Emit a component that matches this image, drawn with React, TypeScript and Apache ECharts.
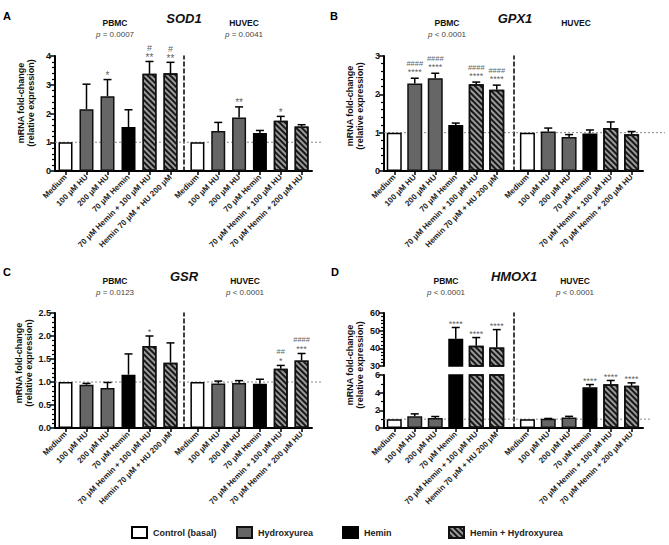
import React, { useEffect, useRef } from 'react';
import * as echarts from 'echarts';

const FONT = "'Liberation Sans', Arial, Helvetica, sans-serif";

const pbmcLabels = ['Medium', '100 μM HU', '200 μM HU', '70 μM Hemin', '70 μM Hemin + 100 μM HU', 'Hemin 70 μM + HU 200 μM'];
const huvecLabels = ['Medium', '100 μM HU', '200 μM HU', '70 μM Hemin', '70 μM Hemin + 100 μM HU', '70 μM Hemin + 200 μM HU'];
const treatments = ['control', 'hu', 'hu', 'hemin', 'combo', 'combo'];
const legendNames = ['Control (basal)', 'Hydroxyurea', 'Hemin', 'Hemin + Hydroxyurea'];
const legendTreatments = ['control', 'hu', 'hemin', 'combo'];

// SOD1
const sod1PbmcMean = [1, 2.15, 2.6, 1.53, 3.38, 3.4];
const sod1PbmcSem = [0, 0.87, 0.58, 0.6, 0.43, 0.38];
const sod1PbmcStars = ['', '', '*', '', '**', '**'];
const sod1PbmcHash = ['', '', '', '', '#', '#'];
const sod1HuvecMean = [1, 1.39, 1.86, 1.32, 1.75, 1.55];
const sod1HuvecSem = [0, 0.3, 0.37, 0.09, 0.15, 0.06];
const sod1HuvecStars = ['', '', '**', '', '*', ''];
const sod1HuvecHash = ['', '', '', '', '', ''];
const sod1P = ['= 0.0007', '= 0.0041'];

// GPX1
const gpx1PbmcMean = [1, 2.28, 2.42, 1.2, 2.26, 2.12];
const gpx1PbmcSem = [0, 0.14, 0.13, 0.05, 0.06, 0.12];
const gpx1PbmcStars = ['', '****', '****', '', '****', '****'];
const gpx1PbmcHash = ['', '####', '####', '', '####', '####'];
const gpx1HuvecMean = [1, 1.03, 0.89, 0.98, 1.12, 0.96];
const gpx1HuvecSem = [0, 0.09, 0.06, 0.09, 0.16, 0.07];
const gpx1HuvecStars = ['', '', '', '', '', ''];
const gpx1HuvecHash = ['', '', '', '', '', ''];
const gpx1P = ['< 0.0001', ''];

// GSR
const gsrPbmcMean = [1, 0.94, 0.87, 1.16, 1.78, 1.42];
const gsrPbmcSem = [0, 0.03, 0.12, 0.45, 0.22, 0.43];
const gsrPbmcStars = ['', '', '', '', '*', ''];
const gsrPbmcHash = ['', '', '', '', '', ''];
const gsrHuvecMean = [1, 0.97, 0.98, 0.96, 1.29, 1.47];
const gsrHuvecSem = [0, 0.05, 0.05, 0.1, 0.07, 0.15];
const gsrHuvecStars = ['', '', '', '', '*', '***'];
const gsrHuvecHash = ['', '', '', '', '##', '####'];
const gsrP = ['= 0.0123', '< 0.0001'];

// HMOX1
const hmoxPbmcMean = [1, 1.32, 1.12, 45.4, 41.4, 40.5];
const hmoxPbmcSem = [0, 0.28, 0.18, 6.4, 4.7, 10.1];
const hmoxPbmcStars = ['', '', '', '****', '****', '****'];
const hmoxPbmcHash = ['', '', '', '', '', ''];
const hmoxHuvecMean = [1, 1.05, 1.2, 4.6, 4.95, 4.78];
const hmoxHuvecSem = [0, 0.03, 0.12, 0.32, 0.43, 0.33];
const hmoxHuvecStars = ['', '', '', '****', '****', '****'];
const hmoxHuvecHash = ['', '', '', '', '', ''];
const hmoxP = ['< 0.0001', '< 0.0001'];

const HATCH = {
  symbol: 'rect',
  symbolSize: 1,
  rotation: Math.PI / 4,
  color: 'rgba(0,0,0,0.85)',
  dashArrayX: [1, 0],
  dashArrayY: [1.6, 1.8],
};

const BAR_STYLE: Record<string, any> = {
  control: { color: '#ffffff', borderColor: '#000', borderWidth: 1.5 },
  hu: { color: '#666666', borderColor: '#111', borderWidth: 1.5 },
  hemin: { color: '#000000', borderColor: '#000', borderWidth: 1.5 },
  combo: { color: '#9a9a9a', borderColor: '#111', borderWidth: 1.5, decal: HATCH },
};

type Seg = { top: number; height: number; min: number; max: number; interval: number; minor: number; bottom: boolean; ref: boolean; fmt?: (v: number) => string };

type Panel = {
  letter: string; gene: string; p: string[];
  yx: number; pw: number; hx: number; hw: number; div: number; xEnd: number; dashEnd: number; barW: number;
  segs: Seg[];
  pMean: number[]; pSem: number[]; pStars: string[]; pHash: string[];
  hMean: number[]; hSem: number[]; hStars: string[]; hHash: string[];
  letterPos: number[]; genePos: number[]; pbmcPos: number[]; huvecPos: number[]; pY: number; namePos: number[];
  starSize: number; hashSize: number; starDy: number; hashDy: number;
};

const panels: Panel[] = [
  {
    letter: 'A', gene: 'SOD1', p: sod1P, yx: 55, pw: 126, hx: 187, hw: 125, div: 184, xEnd: 312, dashEnd: 322, barW: 14,
    segs: [{ top: 56, height: 115, min: 0, max: 4, interval: 1, minor: 5, bottom: true, ref: true }],
    pMean: sod1PbmcMean, pSem: sod1PbmcSem, pStars: sod1PbmcStars, pHash: sod1PbmcHash,
    hMean: sod1HuvecMean, hSem: sod1HuvecSem, hStars: sod1HuvecStars, hHash: sod1HuvecHash,
    letterPos: [3, 16], genePos: [184, 18.5], pbmcPos: [115, 22.5], huvecPos: [244, 22.5], pY: 34, namePos: [26, 103],
    starSize: 10, hashSize: 9, starDy: 1, hashDy: -9,
  },
  {
    letter: 'B', gene: 'GPX1', p: gpx1P, yx: 384, pw: 123, hx: 517, hw: 125, div: 514, xEnd: 643, dashEnd: 665, barW: 15,
    segs: [{ top: 56, height: 115, min: 0, max: 3, interval: 1, minor: 5, bottom: true, ref: true }],
    pMean: gpx1PbmcMean, pSem: gpx1PbmcSem, pStars: gpx1PbmcStars, pHash: gpx1PbmcHash,
    hMean: gpx1HuvecMean, hSem: gpx1HuvecSem, hStars: gpx1HuvecStars, hHash: gpx1HuvecHash,
    letterPos: [330, 16], genePos: [515, 18.5], pbmcPos: [447, 22.5], huvecPos: [576, 22.5], pY: 34, namePos: [355, 106],
    starSize: 9, hashSize: 7.5, starDy: -2, hashDy: -11,
  },
  {
    letter: 'C', gene: 'GSR', p: gsrP, yx: 55, pw: 126, hx: 187, hw: 125, div: 184, xEnd: 312, dashEnd: 322, barW: 14,
    segs: [{ top: 313, height: 115, min: 0, max: 2.5, interval: 0.5, minor: 5, bottom: true, ref: true, fmt: (v: number) => v.toFixed(1) }],
    pMean: gsrPbmcMean, pSem: gsrPbmcSem, pStars: gsrPbmcStars, pHash: gsrPbmcHash,
    hMean: gsrHuvecMean, hSem: gsrHuvecSem, hStars: gsrHuvecStars, hHash: gsrHuvecHash,
    letterPos: [3, 272], genePos: [184, 276], pbmcPos: [115, 280.5], huvecPos: [245, 280.5], pY: 292, namePos: [24, 363],
    starSize: 9, hashSize: 7.5, starDy: 0, hashDy: -10,
  },
  {
    letter: 'D', gene: 'HMOX1', p: hmoxP, yx: 384, pw: 123, hx: 517, hw: 125, div: 514, xEnd: 643, dashEnd: 650, barW: 15,
    segs: [
      { top: 313, height: 53, min: 30, max: 60, interval: 10, minor: 5, bottom: false, ref: false },
      { top: 375, height: 53, min: 0, max: 6, interval: 2, minor: 2, bottom: true, ref: true },
    ],
    pMean: hmoxPbmcMean, pSem: hmoxPbmcSem, pStars: hmoxPbmcStars, pHash: hmoxPbmcHash,
    hMean: hmoxHuvecMean, hSem: hmoxHuvecSem, hStars: hmoxHuvecStars, hHash: hmoxHuvecHash,
    letterPos: [331, 272], genePos: [514, 276], pbmcPos: [446, 280.5], huvecPos: [575, 280.5], pY: 292, namePos: [355, 365],
    starSize: 9, hashSize: 7.5, starDy: 1, hashDy: -9,
  },
];

function buildOption() {
  const grid: any[] = [];
  const xAxis: any[] = [];
  const yAxis: any[] = [];
  const series: any[] = [];
  const graphic: any[] = [];

  const addGrid = (left: number, width: number, top: number, height: number) => {
    grid.push({ left, width, top, height, containLabel: false, show: false });
    return grid.length - 1;
  };

  const blackLine = { color: '#000', width: 1.5 };

  const errSeries = (xi: number, yi: number, means: number[], sems: number[], lo: number, hi: number) => ({
    type: 'custom',
    xAxisIndex: xi,
    yAxisIndex: yi,
    z: 6,
    silent: true,
    clip: false,
    data: means.map((m, i) => [i, m, sems[i]]),
    encode: { x: 0, y: 1 },
    renderItem: (params: any, api: any) => {
      const i = params.dataIndex;
      const m = api.value(1);
      const e = api.value(2);
      if (m < lo || m > hi || !(e > 0)) return { type: 'group', children: [] };
      const p0 = api.coord([i, m]);
      const p1 = api.coord([i, m + e]);
      const ls = { stroke: '#000', lineWidth: 1.5, fill: null };
      return {
        type: 'group',
        children: [
          { type: 'line', shape: { x1: p0[0], y1: p0[1], x2: p1[0], y2: p1[1] }, style: ls },
          { type: 'line', shape: { x1: p1[0] - 4, y1: p1[1], x2: p1[0] + 4, y2: p1[1] }, style: ls },
        ],
      };
    },
  });

  const annotSeries = (xi: number, yi: number, means: number[], sems: number[], marks: string[], lo: number, hi: number, size: number, dy: number) => {
    const data: any[] = [];
    means.forEach((m, i) => {
      if (marks[i] && m >= lo && m <= hi) data.push([i, m + sems[i], i]);
    });
    return {
      type: 'scatter',
      xAxisIndex: xi,
      yAxisIndex: yi,
      z: 7,
      silent: true,
      clip: false,
      symbol: 'circle',
      symbolSize: 0,
      itemStyle: { color: 'rgba(0,0,0,0)' },
      data,
      label: {
        show: true,
        position: 'top',
        distance: -dy,
        formatter: (p: any) => marks[p.data[2]],
        fontSize: size,
        fontFamily: FONT,
        color: '#333',
        lineHeight: size,
      },
    };
  };

  const barSeries = (xi: number, yi: number, means: number[], barW: number) => ({
    type: 'bar',
    xAxisIndex: xi,
    yAxisIndex: yi,
    barWidth: barW,
    clip: true,
    z: 3,
    silent: true,
    data: means.map((v, i) => ({ value: v, itemStyle: BAR_STYLE[treatments[i]] })),
  });

  panels.forEach((P) => {
    P.segs.forEach((S) => {
      const lo = S.min === 0 ? -Infinity : S.min;
      const hi = S.max;
      [0, 1].forEach((side) => {
        const isP = side === 0;
        const gi = isP ? addGrid(P.yx, P.pw, S.top, S.height) : addGrid(P.hx, P.hw, S.top, S.height);
        xAxis.push({
          gridIndex: gi,
          type: 'category',
          data: isP ? pbmcLabels : huvecLabels,
          axisLine: { show: false },
          axisTick: { show: S.bottom, alignWithLabel: true, length: 4, lineStyle: blackLine },
          axisLabel: {
            show: S.bottom, interval: 0, rotate: 45, margin: 5,
            fontSize: 8, fontWeight: 'bold', fontFamily: FONT, color: '#222',
          },
          splitLine: { show: false },
        });
        yAxis.push({
          gridIndex: gi,
          type: 'value',
          min: S.min,
          max: S.max,
          interval: S.interval,
          show: isP,
          axisLine: { show: true, onZero: false, lineStyle: { color: '#000', width: 2 } },
          axisTick: { show: true, length: 5, lineStyle: blackLine },
          minorTick: { show: true, splitNumber: S.minor, length: 3, lineStyle: { color: '#000', width: 1.2 } },
          axisLabel: { fontSize: 9, fontWeight: 'bold', fontFamily: FONT, color: '#111', margin: 4, formatter: S.fmt ? S.fmt : (v: number) => String(v) },
          splitLine: { show: false },
        });
        const xi = xAxis.length - 1;
        const yi = yAxis.length - 1;
        const means = isP ? P.pMean : P.hMean;
        const sems = isP ? P.pSem : P.hSem;
        series.push(barSeries(xi, yi, means, P.barW));
        series.push(errSeries(xi, yi, means, sems, lo, hi));
        series.push(annotSeries(xi, yi, means, sems, isP ? P.pStars : P.hStars, lo, hi, P.starSize, P.starDy));
        series.push(annotSeries(xi, yi, means, sems, isP ? P.pHash : P.hHash, lo, hi, P.hashSize, P.hashDy));
      });

      if (S.bottom) {
        const gi = addGrid(P.yx, P.xEnd - P.yx, S.top, S.height);
        xAxis.push({ gridIndex: gi, type: 'value', min: 0, max: 1, axisLine: { show: true, onZero: false, lineStyle: { color: '#000', width: 2 } }, axisTick: { show: false }, axisLabel: { show: false }, splitLine: { show: false } });
        yAxis.push({ gridIndex: gi, type: 'value', min: 0, max: 1, show: false });
      }
      if (S.ref) {
        const gi = addGrid(P.yx, P.dashEnd - P.yx, S.top, S.height);
        xAxis.push({ gridIndex: gi, type: 'value', min: 0, max: 1, show: false });
        yAxis.push({ gridIndex: gi, type: 'value', min: S.min, max: S.max, show: false });
        series.push({
          type: 'line', xAxisIndex: xAxis.length - 1, yAxisIndex: yAxis.length - 1, z: 1, silent: true,
          symbol: 'none', lineStyle: { color: '#8a8a8a', width: 1, type: [2, 2] },
          data: [[0, 1], [1, 1]],
        });
      }
    });

    const top = P.segs[0].top;
    const last = P.segs[P.segs.length - 1];
    const bottom = last.top + last.height;
    const gi = addGrid(P.div, 10, top, bottom - top);
    xAxis.push({ gridIndex: gi, type: 'value', min: 0, max: 1, show: false });
    yAxis.push({
      gridIndex: gi, type: 'value', min: 0, max: 1,
      axisLine: { show: true, onZero: false, lineStyle: { color: '#000', width: 1.5, type: [4, 3] } },
      axisTick: { show: false }, axisLabel: { show: false }, splitLine: { show: false },
    });

    graphic.push({ type: 'text', x: P.letterPos[0], y: P.letterPos[1], style: { text: P.letter, font: `bold 11px ${FONT}`, fill: '#000', verticalAlign: 'middle' } });
    graphic.push({ type: 'text', x: P.genePos[0], y: P.genePos[1], style: { text: P.gene, font: `italic bold 13px ${FONT}`, fill: '#111', align: 'center', verticalAlign: 'middle' } });
    graphic.push({ type: 'text', x: P.pbmcPos[0], y: P.pbmcPos[1], style: { text: 'PBMC', font: `bold 8.5px ${FONT}`, fill: '#111', align: 'center', verticalAlign: 'middle' } });
    graphic.push({ type: 'text', x: P.huvecPos[0], y: P.huvecPos[1], style: { text: 'HUVEC', font: `bold 8.5px ${FONT}`, fill: '#111', align: 'center', verticalAlign: 'middle' } });
    const pTexts = [[P.pbmcPos[0], P.p[0]], [P.huvecPos[0], P.p[1]]];
    pTexts.forEach(([x, t]) => {
      if (!t) return;
      graphic.push({
        type: 'text', x: x as number, y: P.pY,
        style: {
          text: `{i|p} ${t}`, font: `8px ${FONT}`, fill: '#444', align: 'center', verticalAlign: 'middle',
          rich: { i: { fontStyle: 'italic', fontSize: 8, fontFamily: FONT, fill: '#444' } },
        },
      });
    });
    graphic.push({
      type: 'text', x: P.namePos[0], y: P.namePos[1], rotation: Math.PI / 2,
      style: { text: 'mRNA fold-change\n(relative expression)', font: `bold 9px ${FONT}`, fill: '#111', align: 'center', verticalAlign: 'middle', lineHeight: 10 },
    });
  });

  const hg = addGrid(0, 1, 0, 1);
  xAxis.push({ gridIndex: hg, type: 'category', data: ['x'], show: false });
  yAxis.push({ gridIndex: hg, type: 'value', show: false });
  legendNames.forEach((name, k) => {
    series.push({
      type: 'bar', name, xAxisIndex: xAxis.length - 1, yAxisIndex: yAxis.length - 1,
      data: [], itemStyle: BAR_STYLE[legendTreatments[k]],
    });
  });
  const legendLeft = [131, 236, 342, 448];
  const legend = legendNames.map((name, k) => ({
    data: [name], left: legendLeft[k], top: 526, itemWidth: 15, itemHeight: 11, icon: 'rect', itemGap: 0, padding: 0,
    selectedMode: false,
    textStyle: { fontSize: 9, fontWeight: 'bold', fontFamily: FONT, color: '#222', padding: [0, 0, 0, 1] },
  }));

  return {
    animation: false,
    backgroundColor: '#ffffff',
    textStyle: { fontFamily: FONT },
    grid, xAxis, yAxis, series, legend,
    graphic: { elements: graphic },
  };
}

export default function App() {
  const ref = useRef<HTMLDivElement>(null);
  useEffect(() => {
    if (!ref.current) return;
    const chart = echarts.init(ref.current, undefined, { renderer: 'svg', width: 669, height: 545 });
    chart.setOption(buildOption() as any);
    return () => chart.dispose();
  }, []);
  return <div ref={ref} style={{ position: 'fixed', left: 0, top: 0, width: 669, height: 545, background: '#fff' }} />;
}
